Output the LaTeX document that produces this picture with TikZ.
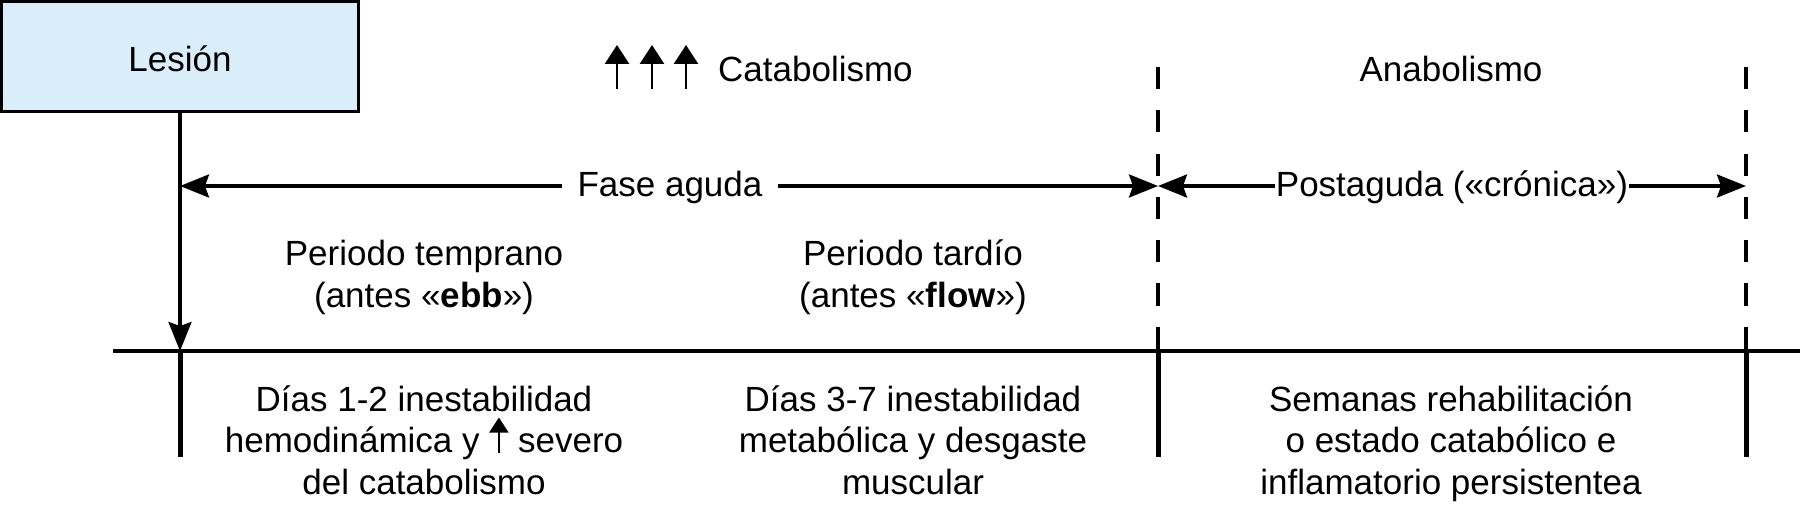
\documentclass[tikz,border=0pt]{standalone}
\usepackage{fontspec}
\setmainfont{Liberation Sans}
\usetikzlibrary{arrows.meta}
\definecolor{boxblue}{RGB}{218,238,250}
\newcommand{\smallup}{\tikz[baseline=0pt,x=1pt,y=1pt]\draw[line width=2pt,-{Triangle[length=15pt,width=19pt]}] (0,0) -- (0,35);}
\begin{document}
\begin{tikzpicture}[x=1pt,y=-1pt,
  txt/.style={font=\fontsize{35}{41.5}\selectfont, inner sep=0pt, align=center},
  lesionbox/.style={draw, line width=3.3pt, fill=boxblue, minimum width=356.7pt, minimum height=109.7pt, inner sep=0pt, text height=29.4pt, text depth=0pt, font=\fontsize{35}{41.5}\selectfont},
  conn/.style={line width=3.3pt, -{Stealth[length=29pt,width=23pt,inset=4pt]}},
  axisline/.style={line width=4pt},
  tickline/.style={line width=5pt},
  phaseline/.style={line width=4.3pt, dash pattern=on 22pt off 21.3pt},
  bigup/.style={line width=2.7pt, -{Triangle[length=19pt,width=24pt]}}
]
\useasboundingbox (0,0) rectangle (1800,513);

% coordinates
\coordinate (t0) at (180,351);
\coordinate (b0) at (180,457);
\coordinate (axl) at (113,351);
\coordinate (axr) at (1800,351);
\coordinate (d1top) at (1158,67);
\coordinate (d1ax) at (1158,351);
\coordinate (d1bot) at (1158,457);
\coordinate (d2top) at (1746,67);
\coordinate (d2ax) at (1746,351);
\coordinate (d2bot) at (1746,457);
\coordinate (m0) at (180,186);
\coordinate (m1) at (1158,186);
\coordinate (m2) at (1746,186);

% axis and phase lines
\draw[axisline] (axl) -- (axr);
\draw[tickline] (t0) -- (b0);
\draw[phaseline] (d1top) -- (d1ax);
\draw[tickline] (d1ax) -- (d1bot);
\draw[phaseline] (d2top) -- (d2ax);
\draw[tickline] (d2ax) -- (d2bot);

% injury box
\node[lesionbox] (lesion) at (180,56.5) {Lesión};
\draw[conn] (lesion.south) -- (t0);

% top labels
\draw[bigup] (617,89) -- (617,45);
\draw[bigup] (652,89) -- (652,45);
\draw[bigup] (686,89) -- (686,45);
\node[txt, anchor=base west] (cata) at (718,82) {Catabolismo};
\node[txt, anchor=base] (ana) at (1451,82) {Anabolismo};

% phase arrows
\node[txt, anchor=base, inner xsep=15pt] (fase) at (670,197) {Fase aguda};
\node[txt, anchor=base, inner xsep=1pt] (post) at (1452,197) {Postaguda («crónica»)};
\draw[conn] (fase.west |- m0) -- (m0);
\draw[conn] (fase.east |- m1) -- (m1);
\draw[conn] (post.west |- m1) -- (m1);
\draw[conn] (post.east |- m2) -- (m2);

% periods (base = last line)
\node[txt, anchor=base] (early) at (424,307) {Periodo temprano\\(antes «\textbf{ebb}»)};
\node[txt, anchor=base] (late) at (913,307) {Periodo tardío\\(antes «\textbf{flow}»)};

% bottom descriptions (base = last line)
\node[txt, anchor=base] (d12) at (424,494) {Días 1-2 inestabilidad\\hemodinámica y \smallup{} severo\\del catabolismo};
\node[txt, anchor=base] (d37) at (913,494) {Días 3-7 inestabilidad\\metabólica y desgaste\\muscular};
\node[txt, anchor=base] (sem) at (1451,494) {Semanas rehabilitación\\o estado catabólico e\\inflamatorio persistentea};
\end{tikzpicture}
\end{document}
